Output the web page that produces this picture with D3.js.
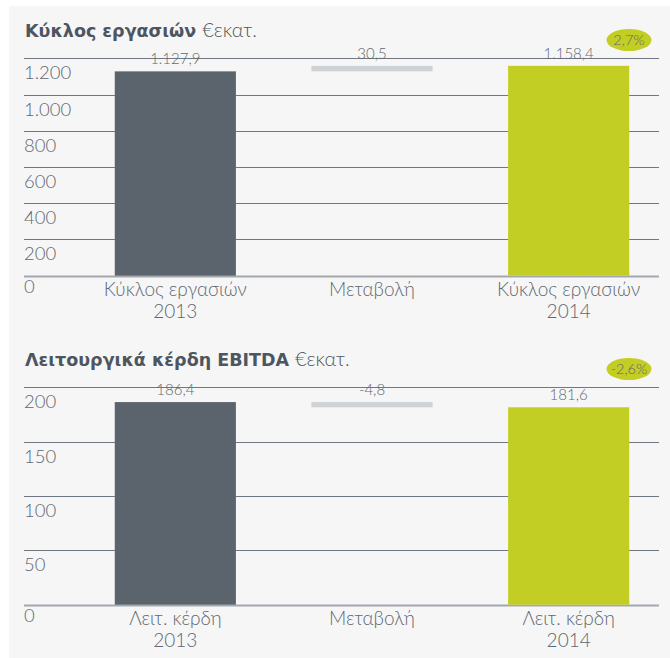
<!DOCTYPE html>
<html>
<head>
<meta charset="utf-8">
<script src="https://cdn.jsdelivr.net/npm/d3@7"></script>
<style>
    body { margin: 0; background: #fff; }
    svg { display: block; font-family: "Lato", "Open Sans", sans-serif; }
    .tick-label, .cat-label, .val-label { fill: #5f6872; font-weight: 300; }
    .title { fill: #4d5660; }
</style>
</head>
<body>
<svg id="chart" width="670" height="658"></svg>
<script>
// turnover chart
const revenueTitle = "Κύκλος εργασιών"
const revenueCategories = [["Κύκλος εργασιών", "2013"], ["Μεταβολή"], ["Κύκλος εργασιών", "2014"]]
const revenueValues = [1127.9, 30.5, 1158.4]
const revenueTicks = [0, 200, 400, 600, 800, 1000, 1200]
const revenueBadge = "2,7%"

// EBITDA chart
const ebitdaTitle = "Λειτουργικά κέρδη EBITDA"
const ebitdaCategories = [["Λειτ. κέρδη", "2013"], ["Μεταβολή"], ["Λειτ. κέρδη", "2014"]]
const ebitdaValues = [186.4, -4.8, 181.6]
const ebitdaTicks = [0, 50, 100, 150, 200]
const ebitdaBadge = "-2,6%"

const unit = "€εκατ."

const locale = d3.formatLocale({ decimal: ",", thousands: ".", grouping: [3], currency: ["€", ""], minus: "-" })
const fmtVal = locale.format(",.1f")
const fmtTick = locale.format(",d")

const svg = d3.select("#chart")
svg.append("rect").attr("x", 9).attr("y", 6).attr("width", 661).attr("height", 652).attr("fill", "#f6f6f6")

function drawChart(offset, title, categories, values, ticks) {
    const g = svg.append("g").attr("transform", `translate(0,${offset})`)
    const keys = categories.map(c => c.join(" "))

    const x = d3.scaleBand().domain(keys).range([77, 667]).paddingInner(0.384).paddingOuter(0.192)
    const y = d3.scaleLinear().domain([0, d3.max(ticks)]).range([275.7, 58.3])

    // title
    const t = g.append("text").attr("class", "title").attr("x", 25).attr("y", 37)
    t.append("tspan").attr("font-weight", 700).style("font-family", "'DejaVu Sans', sans-serif").style("font-size", "17.5px").text(title)
    t.append("tspan").attr("dx", 6).attr("font-weight", 300).style("font-size", "20px").text(unit)

    // gridlines
    g.selectAll(".grid").data(ticks).enter().append("line").attr("class", "grid")
        .attr("x1", 24).attr("x2", 659).attr("y1", d => Math.round(y(d)) + 0.5).attr("y2", d => Math.round(y(d)) + 0.5)
        .attr("stroke", d => d === 0 ? "#a3a8ae" : "#6f7882").attr("stroke-width", d => d === 0 ? 2 : 1)

    g.selectAll(".tick-label").data(ticks).enter().append("text").attr("class", "tick-label")
        .attr("x", 24).attr("y", d => y(d) + (d === 0 ? 17 : 21)).style("font-size", "18.5px").text(d => fmtTick(d))

    // waterfall bars
    const start = values[0]
    const bars = [
        { key: keys[0], y0: 0, y1: values[0], fill: "#5b646d" },
        { key: keys[1], y0: start, y1: start + values[1], fill: "#cfd2d5" },
        { key: keys[2], y0: 0, y1: values[2], fill: "#c2ce23" }
    ]
    g.selectAll(".bar").data(bars).enter().append("rect").attr("class", "bar")
        .attr("x", d => x(d.key)).attr("width", x.bandwidth())
        .attr("y", d => y(Math.max(d.y0, d.y1))).attr("height", d => Math.abs(y(d.y0) - y(d.y1)))
        .attr("fill", d => d.fill)

    g.selectAll(".val-label").data(bars).enter().append("text").attr("class", "val-label")
        .attr("x", d => x(d.key) + x.bandwidth() / 2).attr("y", d => y(Math.max(d.y0, d.y1)) - 7)
        .attr("text-anchor", "middle").style("font-size", "15px")
        .text((d, i) => fmtVal(values[i]))

    // category labels
    const cl = g.selectAll(".cat-label").data(categories).enter().append("text").attr("class", "cat-label")
        .attr("text-anchor", "middle").style("font-size", "19px")
        .attr("transform", (d, i) => `translate(${x(keys[i]) + x.bandwidth() / 2},${y(0) + 20})`)
    cl.selectAll("tspan").data(d => d).enter().append("tspan")
        .attr("x", 0).attr("y", (d, i) => i * 22).text(d => d)

    return g
}

function drawBadge(g, text) {
    g.append("ellipse").attr("cx", 629).attr("cy", 40).attr("rx", 22.5).attr("ry", 11).attr("fill", "#c2ce23")
    g.append("text").attr("x", 629).attr("y", 45).attr("text-anchor", "middle")
        .style("font-size", "14.5px").attr("fill", "#5f6872").attr("font-weight", 300).text(text)
}

const g1 = drawChart(0, revenueTitle, revenueCategories, revenueValues, revenueTicks)
drawBadge(g1, revenueBadge)
const g2 = drawChart(329, ebitdaTitle, ebitdaCategories, ebitdaValues, ebitdaTicks)
drawBadge(g2, ebitdaBadge)
</script>
</body>
</html>
